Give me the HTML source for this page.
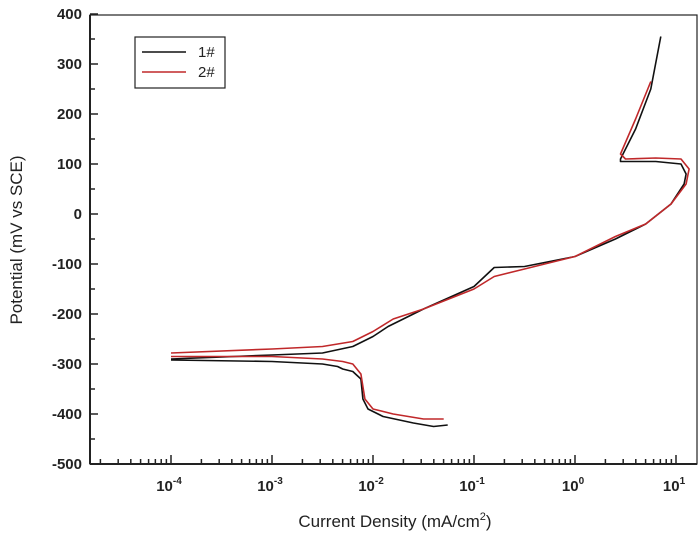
<!DOCTYPE html>
<html><head><meta charset="utf-8"><style>
html,body{margin:0;padding:0;background:#fff;}
svg{display:block;font-family:"Liberation Sans",Arial,sans-serif;}
</style></head><body>
<svg id="s" width="700" height="535" viewBox="0 0 700 535" xmlns="http://www.w3.org/2000/svg">
<rect x="90" y="15" width="607" height="449" fill="none" stroke="#222" stroke-width="1.2"/>
<line x1="90" y1="15" x2="90" y2="464" stroke="#222" stroke-width="2"/>
<line x1="90" y1="464" x2="697" y2="464" stroke="#222" stroke-width="2"/>
<g id="ticks" stroke="#222" stroke-width="1.5"></g>
<g id="lab" font-size="15" font-weight="bold" fill="#222"></g>
<g id="curves" fill="none" stroke-width="1.6" stroke-linejoin="round"></g>
<rect x="135" y="37" width="90" height="51" fill="#fff" stroke="#222" stroke-width="1.2"/>
<line x1="142" y1="52" x2="186" y2="52" stroke="#111" stroke-width="1.6"/>
<line x1="142" y1="72" x2="186" y2="72" stroke="#c0282a" stroke-width="1.6"/>
<text x="198" y="57" font-size="15" fill="#222">1#</text>
<text x="198" y="77" font-size="15" fill="#222">2#</text>
<text x="0" y="0" font-size="17" fill="#222" text-anchor="middle" transform="translate(22,240) rotate(-90)">Potential (mV vs SCE)</text>
<text x="395" y="527" font-size="17" fill="#222" text-anchor="middle">Current Density (mA/cm<tspan dy="-7" font-size="11">2</tspan><tspan dy="7">)</tspan></text>
</svg>
<script>
var NS="http://www.w3.org/2000/svg";
function X(l){return 171+(l+4)*101;}
function Y(e){return 214-e*0.5;}
function el(p,t,a,txt){var e=document.createElementNS(NS,t);for(var k in a)e.setAttribute(k,a[k]);if(txt!==undefined)e.textContent=txt;p.appendChild(e);return e;}
var tk=document.getElementById('ticks'),lab=document.getElementById('lab');
for(var v=-500;v<=400;v+=50){var y=Y(v);var maj=(v%100===0);el(tk,'line',{x1:90,y1:y,x2:maj?98:95,y2:y});
 if(maj)el(lab,'text',{x:82,y:y+5,'text-anchor':'end'},String(v));}
for(var d=-5;d<=1;d++){for(var m=1;m<=9;m++){var l=d+Math.log10(m);var x=X(l);if(x<90||x>697)continue;
 el(tk,'line',{x1:x,y1:464,x2:x,y2:m===1?455:459});
 if(m===1){var t=el(lab,'text',{x:x-2,y:491,'text-anchor':'middle'},'10');var s=el(t,'tspan',{dy:-7,'font-size':10},String(d));}}}
var cv=document.getElementById('curves');
function path(pts,c){var d='';pts.forEach(function(p,i){d+=(i?'L':'M')+X(p[0]).toFixed(1)+' '+Y(p[1]).toFixed(1);});el(cv,'path',{d:d,stroke:c});}
path([[-4,-292],[-3,-295],[-2.5,-300],[-2.35,-305],[-2.3,-310],[-2.2,-315],[-2.12,-330],[-2.1,-370],[-2.05,-390],[-1.9,-405],[-1.6,-418],[-1.4,-425],[-1.26,-422]],'#111');
path([[-4,-290],[-3,-282],[-2.5,-278],[-2.2,-265],[-2.0,-245],[-1.85,-225],[-1.5,-190],[-1.0,-145],[-0.8,-107],[-0.5,-105],[0,-85],[0.4,-50],[0.7,-20],[0.95,20],[1.08,60],[1.1,80],[1.05,100],[0.8,105],[0.45,105],[0.45,110],[0.6,170],[0.75,250],[0.85,355]],'#111');
path([[-4,-285],[-3,-285],[-2.5,-290],[-2.3,-295],[-2.2,-300],[-2.12,-320],[-2.08,-370],[-2.0,-390],[-1.8,-400],[-1.5,-410],[-1.3,-410]],'#c0282a');
path([[-4,-278],[-3,-270],[-2.5,-265],[-2.2,-255],[-2,-235],[-1.8,-210],[-1.5,-190],[-1,-150],[-0.8,-125],[-0.5,-110],[0,-85],[0.4,-45],[0.7,-20],[0.95,20],[1.1,60],[1.13,90],[1.05,110],[0.8,112],[0.5,110],[0.45,120],[0.6,190],[0.75,265]],'#c0282a');
</script>
</body></html>
